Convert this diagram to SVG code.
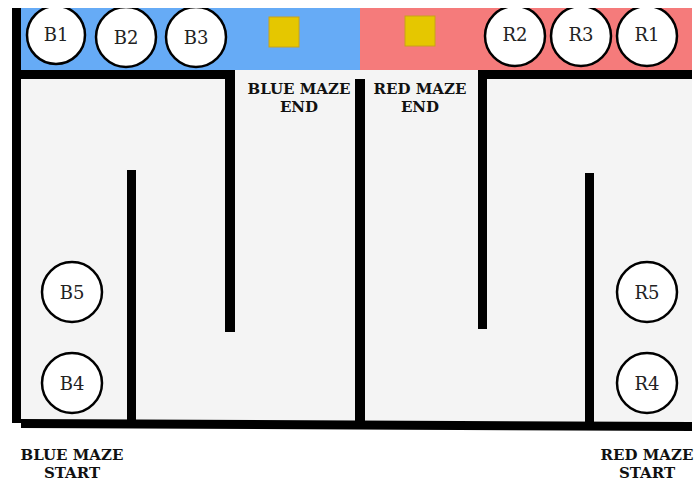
<svg xmlns="http://www.w3.org/2000/svg" width="694" height="482" viewBox="0 0 694 482">
<defs>
<style>
.wall{fill:#000}
.node circle{fill:#fff;stroke:#000;stroke-width:2.5}
.node text{font-family:"DejaVu Serif","Liberation Serif",serif;font-size:18px;fill:#222;text-anchor:middle}
.lbl{font-family:"DejaVu Serif","Liberation Serif",serif;font-size:15px;font-weight:bold;fill:#111;text-anchor:middle}
.goal{fill:#e5c700;stroke:#c9a21a;stroke-width:1}
</style>
<clipPath id="top"><rect x="0" y="8" width="694" height="474"/></clipPath>
</defs>
<rect width="694" height="482" fill="#fff"/>
<rect x="21" y="70" width="671" height="352" fill="#f4f4f4"/>
<rect x="21" y="8" width="339" height="62" fill="#66abf6"/>
<rect x="360" y="8" width="332" height="62" fill="#f57b7b"/>
<rect class="goal" x="269" y="17" width="30" height="30"/>
<rect class="goal" x="405" y="16" width="30" height="30"/>
<g id="walls">
<rect class="wall" x="12" y="8" width="9" height="415"/>
<rect class="wall" x="12" y="70" width="223" height="9"/>
<rect class="wall" x="225" y="70" width="10" height="262"/>
<rect class="wall" x="127" y="170" width="9" height="252"/>
<rect class="wall" x="355" y="79" width="10" height="345"/>
<rect class="wall" x="478" y="70" width="214" height="9"/>
<rect class="wall" x="478" y="70" width="9" height="259"/>
<rect class="wall" x="585" y="173" width="9" height="252"/>
<polygon class="wall" points="21,419 692,422 692,431 21,428"/>
</g>
<g clip-path="url(#top)">
<g id="B1" class="node"><circle cx="56" cy="35" r="29"/><text x="56" y="41">B1</text></g>
<g id="B2" class="node"><circle cx="126" cy="37" r="30"/><text x="126" y="44">B2</text></g>
<g id="B3" class="node"><circle cx="196" cy="37" r="30"/><text x="196" y="44">B3</text></g>
<g id="R2" class="node"><circle cx="515" cy="36" r="30"/><text x="515" y="41">R2</text></g>
<g id="R3" class="node"><circle cx="581" cy="36" r="30"/><text x="581" y="41">R3</text></g>
<g id="R1" class="node"><circle cx="647" cy="36" r="30"/><text x="647" y="41">R1</text></g>
</g>
<g id="B5" class="node"><circle cx="72" cy="292" r="30"/><text x="72" y="299">B5</text></g>
<g id="B4" class="node"><circle cx="72" cy="383" r="30"/><text x="72" y="390">B4</text></g>
<g id="R5" class="node"><circle cx="647" cy="292" r="30"/><text x="647" y="299">R5</text></g>
<g id="R4" class="node"><circle cx="647" cy="383" r="30"/><text x="647" y="390">R4</text></g>
<text class="lbl" x="299" y="94">BLUE MAZE</text>
<text class="lbl" x="299" y="112">END</text>
<text class="lbl" x="420" y="94">RED MAZE</text>
<text class="lbl" x="420" y="112">END</text>
<text class="lbl" x="72" y="460">BLUE MAZE</text>
<text class="lbl" x="72" y="478">START</text>
<text class="lbl" x="647" y="460">RED MAZE</text>
<text class="lbl" x="647" y="478">START</text>
</svg>
